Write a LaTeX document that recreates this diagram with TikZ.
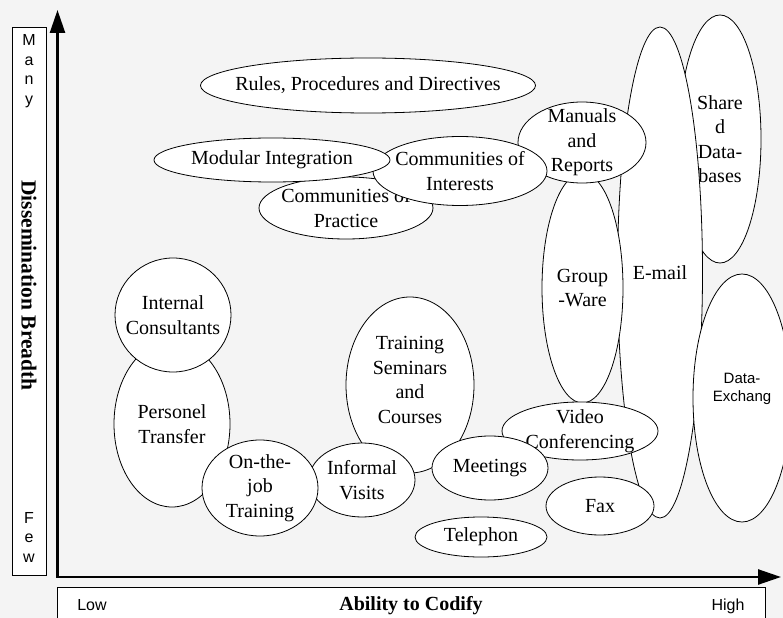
\documentclass[tikz,border=0pt]{standalone}
\usepackage{fontspec}
\setmainfont{Liberation Serif}
\setsansfont{Liberation Sans}
\usetikzlibrary{shapes.geometric,arrows.meta}
\definecolor{paper}{RGB}{244,244,244}
\tikzset{
  blob/.style={ellipse, draw, fill=white, line width=0.8bp, inner sep=0pt},
  every label/.style={font=\fontsize{20bp}{24.5bp}\selectfont, align=center, inner sep=0pt},
  axisbox/.style={draw, fill=white, line width=0.8bp, inner sep=0pt},
  sanstxt/.style={font=\sffamily\fontsize{16bp}{19.5bp}\selectfont, align=center, inner sep=0pt},
  titletxt/.style={font=\bfseries\fontsize{20bp}{24bp}\selectfont, inner sep=0pt},
  axis/.style={line width=2.5bp}
}
\begin{document}
\begin{tikzpicture}[x=1bp, y=-1bp]
    \useasboundingbox (0,0) rectangle (783,618);
    \fill[paper] (0,0) rectangle (783,618);

    % axes
    \coordinate (O) at (57.5,577);
    \coordinate (ytip) at (57.5,10);
    \coordinate (xtip) at (781,577);
    \draw[axis, {Triangle[length=23bp,width=15bp]}-{Triangle[length=23bp,width=15bp]}] (ytip) -- (O) -- (xtip);

    % axis captions
    \node[axisbox, minimum width=34bp, minimum height=548bp] (ybox) at (29,301) {};
    \node[sanstxt] (many) at (29,71) {M\\a\\n\\y};
    \node[sanstxt] (few) at (29,537) {F\\e\\w};
    \node[titletxt, font=\bfseries\fontsize{21.5bp}{24bp}\selectfont, rotate=-90] (ytitle) at (29,285.5) {Dissemination Breadth};
    \node[axisbox, minimum width=708bp, minimum height=34bp] (xbox) at (411,604) {};
    \node[sanstxt, anchor=base] (low) at (92,610) {Low};
    \node[titletxt, anchor=base] (xtitle) at (411,610) {Ability to Codify};
    \node[sanstxt, anchor=base] (high) at (728,610) {High};

    % codified media
    \node[blob, minimum width=82bp, minimum height=248bp, label=center:{Share\\d\\Data-\\bases}] (shared) at (720,139) {};
    \node[blob, minimum width=85bp, minimum height=491bp, label=center:{E-mail}] (email) at (660,272.5) {};
    \node[blob, minimum width=98bp, minimum height=248bp,
          label={[font=\sffamily\fontsize{15bp}{18bp}\selectfont, yshift=9bp]center:{Data-\\Exchang}}] (dex) at (742,398) {};
    \node[blob, minimum width=81bp, minimum height=230bp, label=center:{Group\\-Ware}] (group) at (582.5,288) {};
    \node[blob, minimum width=128bp, minimum height=81bp, label=center:{Manuals\\and\\Reports}] (manuals) at (582,142.5) {};

    % communities and rules
    \node[blob, minimum width=174bp, minimum height=62bp, label=center:{Communities of\\Practice}] (practice) at (346,208) {};
    \node[blob, minimum width=174bp, minimum height=69bp, label=center:{Communities of\\Interests}] (interests) at (460,171) {};
    \node[blob, minimum width=236bp, minimum height=44bp, label=center:{Modular Integration}] (modular) at (272,160) {};
    \node[blob, minimum width=335bp, minimum height=55bp, label=center:{Rules, Procedures and Directives}] (rules) at (368,85.5) {};

    % meetings and talk
    \node[blob, minimum width=156bp, minimum height=58bp, label=center:{Video\\Conferencing}] (video) at (580,431) {};
    \node[blob, minimum width=108bp, minimum height=58bp, label=center:{Fax}] (fax) at (600,506) {};
    \node[blob, minimum width=128bp, minimum height=176bp, label={[yshift=5bp]center:{Training\\Seminars\\and\\Courses}}] (training) at (410,385) {};
    \node[blob, minimum width=106bp, minimum height=74bp, label=center:{Informal\\Visits}] (informal) at (362,480) {};
    \node[blob, minimum width=116bp, minimum height=64bp, label=center:{Meetings}] (meetings) at (490,468) {};
    \node[blob, minimum width=132bp, minimum height=40bp, label=center:{Telephon}] (telephon) at (481,537) {};

    % people
    \node[blob, minimum width=116bp, minimum height=166bp, label=center:{Personel\\Transfer}] (personel) at (172,424) {};
    \node[blob, minimum width=116bp, minimum height=96bp, label=center:{On-the-\\job\\Training}] (onjob) at (260,488) {};
    \node[blob, minimum width=116bp, minimum height=114bp, label=center:{Internal\\Consultants}] (internal) at (173,315) {};
\end{tikzpicture}
\end{document}
